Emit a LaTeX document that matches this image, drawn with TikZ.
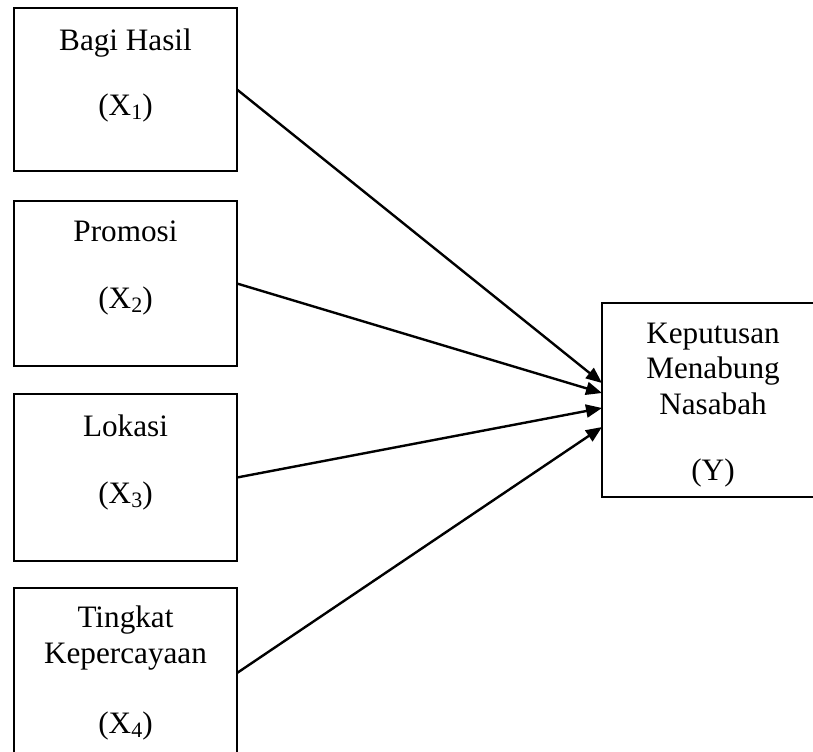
\documentclass[tikz,border=0pt]{standalone}
\usepackage{fontspec}
\setmainfont{Liberation Serif}
\usetikzlibrary{arrows.meta}
\newcommand{\sbx}[1]{X\raisebox{-0.28ex}{\fontsize{11pt}{11pt}\selectfont #1}}
\tikzset{
  box/.style={draw=black, line width=1pt, rectangle, inner sep=0pt, outer sep=0pt},
  lbl/.style={anchor=base, inner sep=0pt, font=\fontsize{15.6pt}{17.5pt}\selectfont},
  arr/.style={line width=1.2pt, -{Triangle[length=8pt,width=6.5pt]}}
}
\begin{document}
\begin{tikzpicture}[x=0.5pt,y=-0.5pt]
\useasboundingbox (0,0) rectangle (813,751);
\clip (0,0) rectangle (813,751);
% boxes
\node[box, minimum width=111.5pt, minimum height=81.5pt] (b1) at (125.5,89.5) {};
\node[box, minimum width=111.5pt, minimum height=82.5pt] (b2) at (125.5,283.5) {};
\node[box, minimum width=111.5pt, minimum height=83.5pt] (b3) at (125.5,477.5) {};
\node[box, minimum width=111.5pt, minimum height=85pt] (b4) at (125.5,673) {};
\node[box, minimum width=111pt, minimum height=97pt] (Y) at (713,400) {};
% labels
\node[lbl] (t1a) at (125.5,50) {Bagi Hasil};
\node[lbl] (t1b) at (125.5,115) {(\sbx{1})};
\node[lbl] (t2a) at (125.5,241) {Promosi};
\node[lbl] (t2b) at (125.5,308) {(\sbx{2})};
\node[lbl] (t3a) at (125.5,436) {Lokasi};
\node[lbl] (t3b) at (125.5,503) {(\sbx{3})};
\node[lbl] (t4a) at (125.5,627) {Tingkat};
\node[lbl] (t4b) at (125.5,663) {Kepercayaan};
\node[lbl] (t4c) at (125.5,733) {(\sbx{4})};
\node[lbl] (ya) at (713,343) {Keputusan};
\node[lbl] (yb) at (713,378) {Menabung};
\node[lbl] (yc) at (713,414) {Nasabah};
\node[lbl] (yd) at (713,480) {(Y)};
% arrows
\draw[arr] (b1.east) -- ([yshift=8.5pt]Y.west);
\draw[arr] (b2.east) -- ([yshift=3.5pt]Y.west);
\draw[arr] (b3.east) -- ([yshift=-4pt]Y.west);
\draw[arr] (b4.east) -- ([yshift=-13.5pt]Y.west);
\end{tikzpicture}
\end{document}
